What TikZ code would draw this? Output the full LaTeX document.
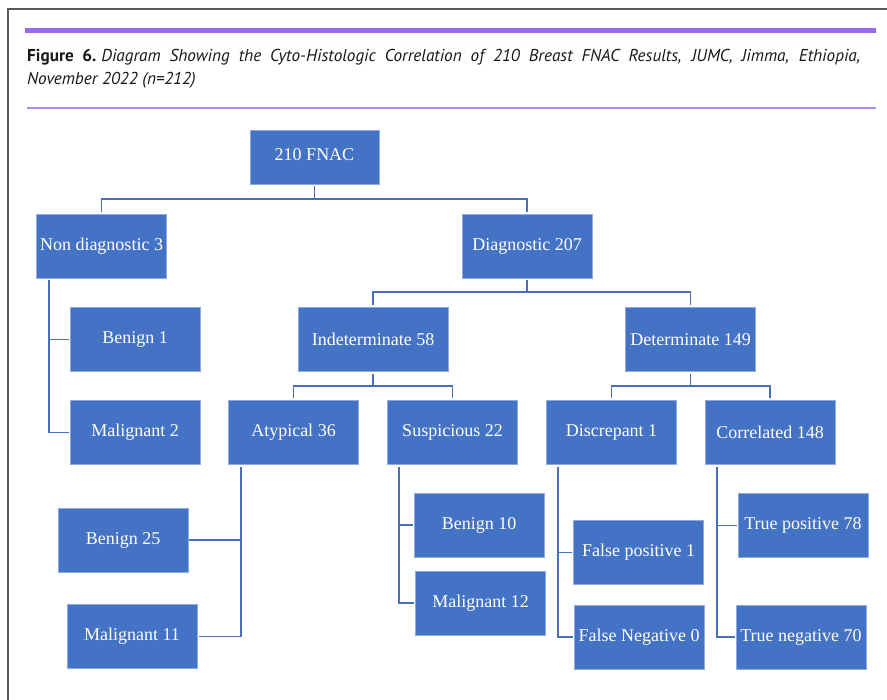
\documentclass[tikz,border=0pt]{standalone}
\usepackage{fontspec}
\setmainfont{Liberation Serif}
\newfontfamily\capfont{PT Sans}
\usetikzlibrary{calc}
\definecolor{boxblue}{RGB}{68,114,196}
\definecolor{edgeblue}{RGB}{143,170,220}
\definecolor{lineblue}{RGB}{72,112,182}
\definecolor{barpurple}{RGB}{155,105,240}
\definecolor{thinpurple}{RGB}{172,140,242}
\definecolor{framegray}{RGB}{90,90,90}
\begin{document}
\begin{tikzpicture}[x=1pt,y=-1pt,
  box/.style={fill=boxblue, draw=edgeblue, line width=0.6pt, minimum width=130pt,
    minimum height=64pt, inner sep=0pt, text=white, font=\fontsize{18}{21}\selectfont},
  conn/.style={draw=lineblue, line width=1.6pt},
  capstyle/.style={anchor=base west, inner sep=0pt, text=black!90, font=\capfont\fontsize{17.2}{20}\selectfont}]
\useasboundingbox (0,0) rectangle (887,700);
\fill[white] (0,0) rectangle (887,700);
% frame and header
\draw[framegray, line width=1.3pt] (8,700) -- (8,9) -- (887,9);
\fill[barpurple] (25,28) rectangle (876,33);
\draw[thinpurple, line width=1.8pt] (27,108) -- (876,108);
\node[capstyle] (cap1) at (27,62) {\makebox[833pt][s]{\textbf{Figure 6.}\hspace{5pt}\textit{Diagram Showing the Cyto-Histologic Correlation of 210 Breast FNAC Results, JUMC, Jimma, Ethiopia,}}};
\node[capstyle] (cap2) at (27,85) {\textit{November 2022 (n=212)}};
% boxes
\node[box, minimum width=129pt, minimum height=54pt] (fnac) at (314.5,157) {\raisebox{4pt}{210 FNAC}};
\node[box] (nondiag) at (101.5,246) {Non diagnostic 3};
\node[box] (diag) at (527,246) {Diagnostic 207};
\node[box, minimum width=150pt] (indet) at (373,339.5) {Indeterminate 58};
\node[box] (det) at (690.5,339.5) {Determinate 149};
\node[box] (ben1) at (135,339.5) {Benign 1};
\node[box] (mal2) at (135,432.5) {Malignant 2};
\node[box] (atyp) at (293.5,432.5) {Atypical 36};
\node[box] (susp) at (452.5,432.5) {Suspicious 22};
\node[box] (discr) at (611.5,432.5) {Discrepant 1};
\node[box] (corr) at (770,432.5) {Correlated 148};
\node[box] (ben25) at (123,540) {Benign 25};
\node[box] (mal11) at (132,636.5) {Malignant 11};
\node[box] (ben10) at (479,525) {Benign 10};
\node[box] (mal12) at (480.5,603) {Malignant 12};
\node[box] (fp) at (638.5,552.5) {False positive 1};
\node[box] (fn) at (639,637) {False Negative 0};
\node[box] (tp) at (803,525.5) {True positive 78};
\node[box] (tn) at (801,637) {True negative 70};
% tree connectors
\draw[conn] ([yshift=-2pt]fnac.south) -- (fnac.south |- 0,199);
\draw[conn] ([yshift=2pt]nondiag.north) |- (fnac.south |- 0,199) -| ([yshift=2pt]diag.north);
\draw[conn] ([yshift=-2pt]diag.south) -- (diag.south |- 0,292);
\draw[conn] ([yshift=2pt]indet.north) |- (diag.south |- 0,292) -| ([yshift=2pt]det.north);
\draw[conn] ([yshift=-2pt]indet.south) -- (indet.south |- 0,386);
\draw[conn] ([yshift=2pt]atyp.north) |- (indet.south |- 0,386) -| ([yshift=2pt]susp.north);
\draw[conn] ([yshift=-2pt]det.south) -- (det.south |- 0,386);
\draw[conn] ([yshift=2pt]discr.north) |- (det.south |- 0,386) -| ([yshift=2pt]corr.north);
% side connectors
\coordinate (ndc) at ([xshift=13pt,yshift=-2pt]nondiag.south west);
\draw[conn] (ndc) |- ([xshift=-1pt]mal2.west);
\draw[conn] (ndc) |- ([xshift=-1pt]ben1.west);
\coordinate (atc) at ([xshift=13pt,yshift=-2pt]atyp.south west);
\draw[conn] (atc) |- ([xshift=2pt]mal11.east);
\draw[conn] (atc) |- ([xshift=1pt]ben25.east);
\coordinate (spc) at ([xshift=12pt,yshift=-2pt]susp.south west);
\draw[conn] (spc) |- ([xshift=-1pt]mal12.west);
\draw[conn] (spc) |- ([xshift=-1pt]ben10.west);
\coordinate (dcc) at ([xshift=12pt,yshift=-2pt]discr.south west);
\draw[conn] (dcc) |- ([xshift=-1pt]fn.west);
\draw[conn] (dcc) |- ([xshift=-1pt]fp.west);
\coordinate (crc) at ([xshift=12pt,yshift=-2pt]corr.south west);
\draw[conn] (crc) |- ([xshift=-1pt]tn.west);
\draw[conn] (crc) |- ([xshift=-1pt]tp.west);
\end{tikzpicture}
\end{document}
